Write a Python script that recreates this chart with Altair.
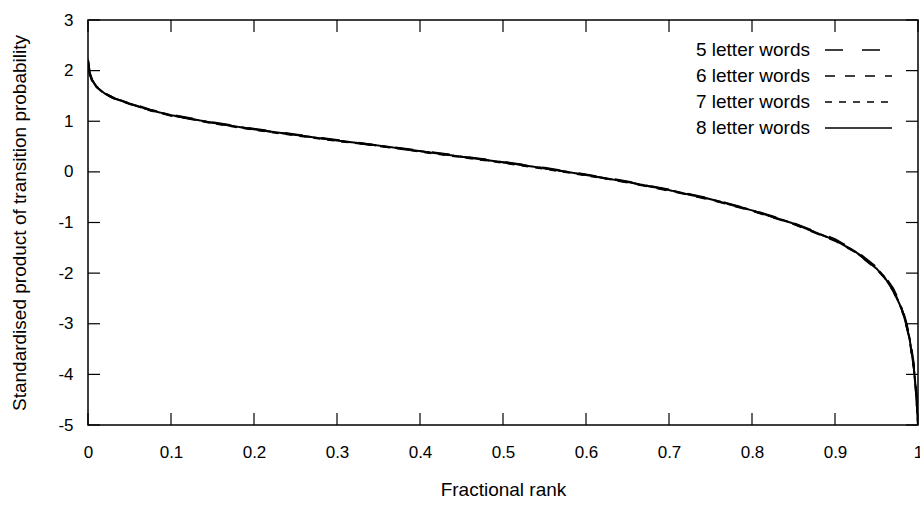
import altair as alt
import pandas as pd

# Fractional rank positions
rank = [0.0, 0.002, 0.005, 0.01, 0.02, 0.03, 0.05, 0.075, 0.1, 0.15, 0.2, 0.25,
        0.3, 0.35, 0.4, 0.45, 0.5, 0.55, 0.6, 0.65, 0.7, 0.75, 0.8, 0.85, 0.9,
        0.925, 0.95, 0.96, 0.97, 0.98, 0.985, 0.99, 0.995, 0.998, 1.0]

w5 = [2.15, 1.93, 1.79, 1.67, 1.55, 1.46, 1.36, 1.23, 1.13, 0.98, 0.85, 0.74,
      0.63, 0.52, 0.42, 0.31, 0.20, 0.08, -0.05, -0.19, -0.35, -0.53, -0.75, -1.01, -1.33,
      -1.56, -1.88, -2.06, -2.30, -2.64, -2.92, -3.25, -3.80, -4.35, -4.95]
w6 = [2.20, 1.96, 1.81, 1.69, 1.56, 1.47, 1.34, 1.22, 1.11, 0.97, 0.84, 0.73,
      0.62, 0.51, 0.41, 0.30, 0.19, 0.07, -0.06, -0.21, -0.37, -0.55, -0.77, -1.03, -1.36,
      -1.59, -1.92, -2.10, -2.35, -2.70, -2.97, -3.32, -3.88, -4.42, -5.0]
w7 = [2.18, 1.95, 1.80, 1.68, 1.54, 1.47, 1.35, 1.21, 1.12, 0.96, 0.83, 0.72,
      0.61, 0.52, 0.40, 0.29, 0.18, 0.06, -0.07, -0.20, -0.36, -0.54, -0.76, -1.02, -1.35,
      -1.58, -1.90, -2.08, -2.33, -2.68, -2.95, -3.30, -3.85, -4.40, -5.0]
w8 = [2.22, 1.97, 1.82, 1.68, 1.55, 1.46, 1.35, 1.22, 1.12, 0.97, 0.84, 0.73,
      0.62, 0.52, 0.41, 0.30, 0.19, 0.07, -0.06, -0.20, -0.36, -0.54, -0.76, -1.02, -1.35,
      -1.58, -1.91, -2.09, -2.34, -2.69, -2.96, -3.31, -3.87, -4.45, -5.0]

series_names = ["5 letter words", "6 letter words", "7 letter words", "8 letter words"]
series_vals = [w5, w6, w7, w8]
dashes = [[18, 19], [10, 10], [7, 7], [1, 0]]

x_ticks = [0, 0.1, 0.2, 0.3, 0.4, 0.5, 0.6, 0.7, 0.8, 0.9, 1]
y_ticks = [-5, -4, -3, -2, -1, 0, 1, 2, 3]

W, H = 830, 405
FONT = "Liberation Sans"
FS = 17      # tick labels
FT = 19      # titles and legend

rows = []
for name, vals in zip(series_names, series_vals):
    for r, v in zip(rank, vals):
        rows.append({"rank": r, "value": v, "series": name})
df = pd.DataFrame(rows)

xs = alt.Scale(domain=[0, 1], nice=False, zero=False)
ys = alt.Scale(domain=[-5, 3], nice=False, zero=False)

base_x = alt.X("rank:Q", scale=xs,
               axis=alt.Axis(values=x_ticks, ticks=False, domain=False, grid=False,
                             labelExpr="'' + datum.value",
                             labelFont=FONT, labelFontSize=FS, labelColor="black",
                             labelPadding=19, labelFlush=False, labelOverlap=False,
                             title="Fractional rank", titleFont=FONT, titleFontSize=FT,
                             titleFontWeight="normal", titleColor="black", titlePadding=20))
base_y = alt.Y("value:Q", scale=ys,
               axis=alt.Axis(values=y_ticks, ticks=False, domain=False, grid=False,
                             labelExpr="'' + datum.value",
                             labelFont=FONT, labelFontSize=FS, labelColor="black",
                             labelPadding=15, labelFlush=False, labelOverlap=False,
                             title="Standardised product of transition probability",
                             titleFont=FONT, titleFontSize=FT, titleFontWeight="normal",
                             titleColor="black", titlePadding=28))

layers = []
for i, name in enumerate(series_names):
    sub = df[df.series == name]
    layers.append(
        alt.Chart(sub).mark_line(color="black", strokeWidth=2, strokeDash=dashes[i],
                                 clip=True)
        .encode(x=base_x if i == 0 else alt.X("rank:Q", scale=xs),
                y=base_y if i == 0 else alt.Y("value:Q", scale=ys))
    )

TL = 12
xt = pd.DataFrame({"t": x_ticks})
yt = pd.DataFrame({"t": y_ticks})
layers.append(alt.Chart(xt).mark_rule(color="black", strokeWidth=1.2).encode(
    x=alt.X("t:Q", scale=xs), y=alt.value(H), y2=alt.value(H - TL)))
layers.append(alt.Chart(xt).mark_rule(color="black", strokeWidth=1.2).encode(
    x=alt.X("t:Q", scale=xs), y=alt.value(0), y2=alt.value(TL)))
layers.append(alt.Chart(yt).mark_rule(color="black", strokeWidth=1.2).encode(
    y=alt.Y("t:Q", scale=ys), x=alt.value(0), x2=alt.value(TL)))
layers.append(alt.Chart(yt).mark_rule(color="black", strokeWidth=1.2).encode(
    y=alt.Y("t:Q", scale=ys), x=alt.value(W), x2=alt.value(W - TL)))

# Legend (manual, gnuplot style: label left of line sample)
for i, name in enumerate(series_names):
    yy = 30 + 26 * i
    ld = pd.DataFrame({"label": [name]})
    layers.append(alt.Chart(ld).mark_text(align="right", baseline="middle", font=FONT,
                                          fontSize=FT, color="black").encode(
        text="label:N", x=alt.value(722), y=alt.value(yy)))
    layers.append(alt.Chart(ld).mark_rule(color="black", strokeWidth=1.5,
                                          strokeDash=dashes[i]).encode(
        x=alt.value(737), x2=alt.value(804), y=alt.value(yy)))

chart = alt.layer(*layers).properties(
    width=W, height=H,
    autosize=alt.AutoSizeParams(type="none"),
    padding={"left": 88, "top": 20, "right": 2, "bottom": 84},
    background="white",
).configure_view(stroke="black", strokeWidth=1.5)

chart.save("out.html", embed_options={"renderer": "svg", "actions": False})
